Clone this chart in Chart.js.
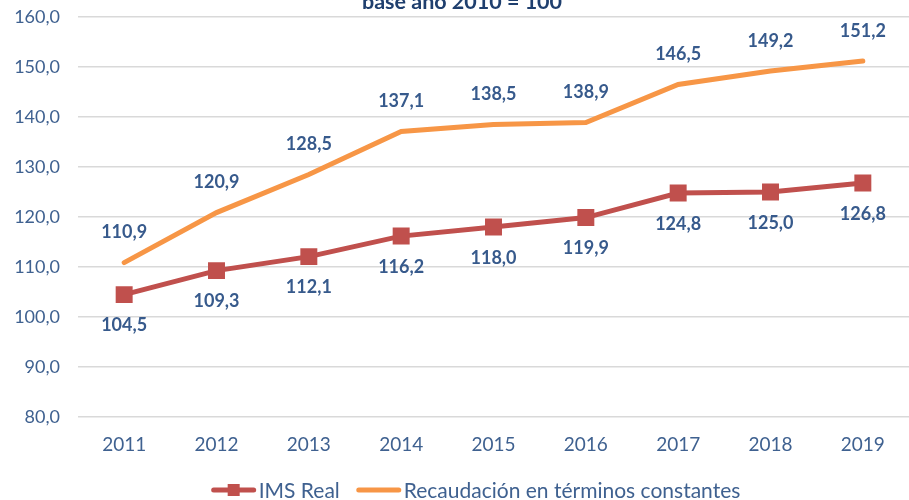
<!DOCTYPE html>
<html>
<head>
<meta charset="utf-8">
<script src="https://cdn.jsdelivr.net/npm/chart.js@4.4.0/dist/chart.umd.min.js"></script>
<style>
    html, body { margin: 0; padding: 0; background: #fff; }
    #wrap { width: 909px; height: 500px; }
</style>
</head>
<body>
<div id="wrap"><canvas id="ims-chart"></canvas></div>
<script>
const years = ['2011', '2012', '2013', '2014', '2015', '2016', '2017', '2018', '2019']
const imsReal = [104.5, 109.3, 112.1, 116.2, 118.0, 119.9, 124.8, 125.0, 126.8]
const recaudacion = [110.9, 120.9, 128.5, 137.1, 138.5, 138.9, 146.5, 149.2, 151.2]
const seriesNames = ['IMS Real', 'Recaudación en términos constantes']
const chartTitle = 'base año 2010 = 100'

const FONT = 'Lato'
const RED = '#c0504d'
const ORANGE = '#f79646'
const TEXT_BLUE = '#3f6190'
const LABEL_BLUE = '#375a8c'

const formatNumber = v => Number(v).toFixed(1).replace('.', ',')

// title sits mostly above the canvas, only its lower part shows
const titlePlugin = {
    id: 'cutTitle',
    afterDraw(chart) {
        const ctx = chart.ctx
        ctx.save()
        ctx.font = `bold 21.5px ${FONT}`
        ctx.fillStyle = '#1f3f6e'
        ctx.textAlign = 'center'
        ctx.textBaseline = 'alphabetic'
        ctx.fillText(chartTitle, 462, 9)
        ctx.restore()
    }
}

const valueLabels = {
    id: 'valueLabels',
    afterDatasetsDraw(chart) {
        const ctx = chart.ctx
        ctx.save()
        ctx.font = `bold 18px ${FONT}`
        ctx.fillStyle = LABEL_BLUE
        ctx.textAlign = 'center'
        ctx.textBaseline = 'middle'
        chart.data.datasets.forEach((ds, i) => {
            const meta = chart.getDatasetMeta(i)
            const offset = i === 0 ? 31 : -30
            meta.data.forEach((pt, j) => {
                ctx.fillText(formatNumber(ds.data[j]), pt.x, pt.y + offset)
            })
        })
        ctx.restore()
    }
}

const bottomLegend = {
    id: 'bottomLegend',
    afterDraw(chart) {
        const ctx = chart.ctx
        ctx.save()
        ctx.font = `21px ${FONT}`
        ctx.textBaseline = 'middle'
        const lineW = 44, gap = 3, itemGap = 17
        const widths = chart.data.datasets.map(ds => lineW + gap + ctx.measureText(ds.label).width)
        const total = widths.reduce((a, b) => a + b, 0) + itemGap * (widths.length - 1)
        let x = 476 - total / 2
        const y = 490
        chart.data.datasets.forEach((ds, i) => {
            ctx.strokeStyle = ds.borderColor
            ctx.lineWidth = 5
            ctx.lineCap = 'round'
            ctx.beginPath()
            ctx.moveTo(x + 2, y)
            ctx.lineTo(x + lineW - 2, y)
            ctx.stroke()
            if (ds.pointRadius > 0) {
                ctx.fillStyle = ds.pointBackgroundColor
                ctx.fillRect(x + lineW / 2 - 6, y - 6, 12, 12)
            }
            ctx.fillStyle = TEXT_BLUE
            ctx.fillText(ds.label, x + lineW + gap, y + 1)
            x += widths[i] + itemGap
        })
        ctx.restore()
    }
}

new Chart(document.querySelector('#ims-chart'), {
    type: 'line',
    data: {
        labels: years,
        datasets: [
            {
                label: seriesNames[0],
                data: imsReal,
                borderColor: RED,
                backgroundColor: RED,
                borderWidth: 5,
                pointStyle: 'rect',
                pointRadius: 12,
                pointBackgroundColor: RED,
                pointBorderColor: RED,
                pointBorderWidth: 0,
                tension: 0
            },
            {
                label: seriesNames[1],
                data: recaudacion,
                borderColor: ORANGE,
                backgroundColor: ORANGE,
                borderWidth: 5,
                borderCapStyle: 'round',
                pointRadius: 0,
                tension: 0
            }
        ]
    },
    options: {
        responsive: true,
        maintainAspectRatio: false,
        animation: false,
        layout: {
            autoPadding: false,
            padding: { top: 17, right: 0, bottom: 36, left: 0 }
        },
        plugins: {
            legend: { display: false },
            title: { display: false },
            tooltip: { enabled: false }
        },
        scales: {
            x: {
                offset: true,
                afterFit: scale => {
                    scale.paddingLeft = 0
                    scale.paddingRight = 0
                },
                grid: { display: false },
                border: { display: false },
                ticks: { color: TEXT_BLUE, font: { family: FONT, size: 19 }, padding: 8 }
            },
            y: {
                min: 80,
                max: 160,
                afterFit: scale => {
                    scale.width = 78
                    scale.paddingTop = 0
                    scale.paddingBottom = 0
                },
                grid: { color: '#d9d9d9', lineWidth: 1.5, drawTicks: false },
                border: { display: false },
                ticks: {
                    stepSize: 10,
                    padding: 18,
                    color: TEXT_BLUE,
                    font: { family: FONT, size: 18 },
                    callback: v => formatNumber(v)
                }
            }
        }
    },
    plugins: [titlePlugin, valueLabels, bottomLegend]
})
</script>
</body>
</html>
